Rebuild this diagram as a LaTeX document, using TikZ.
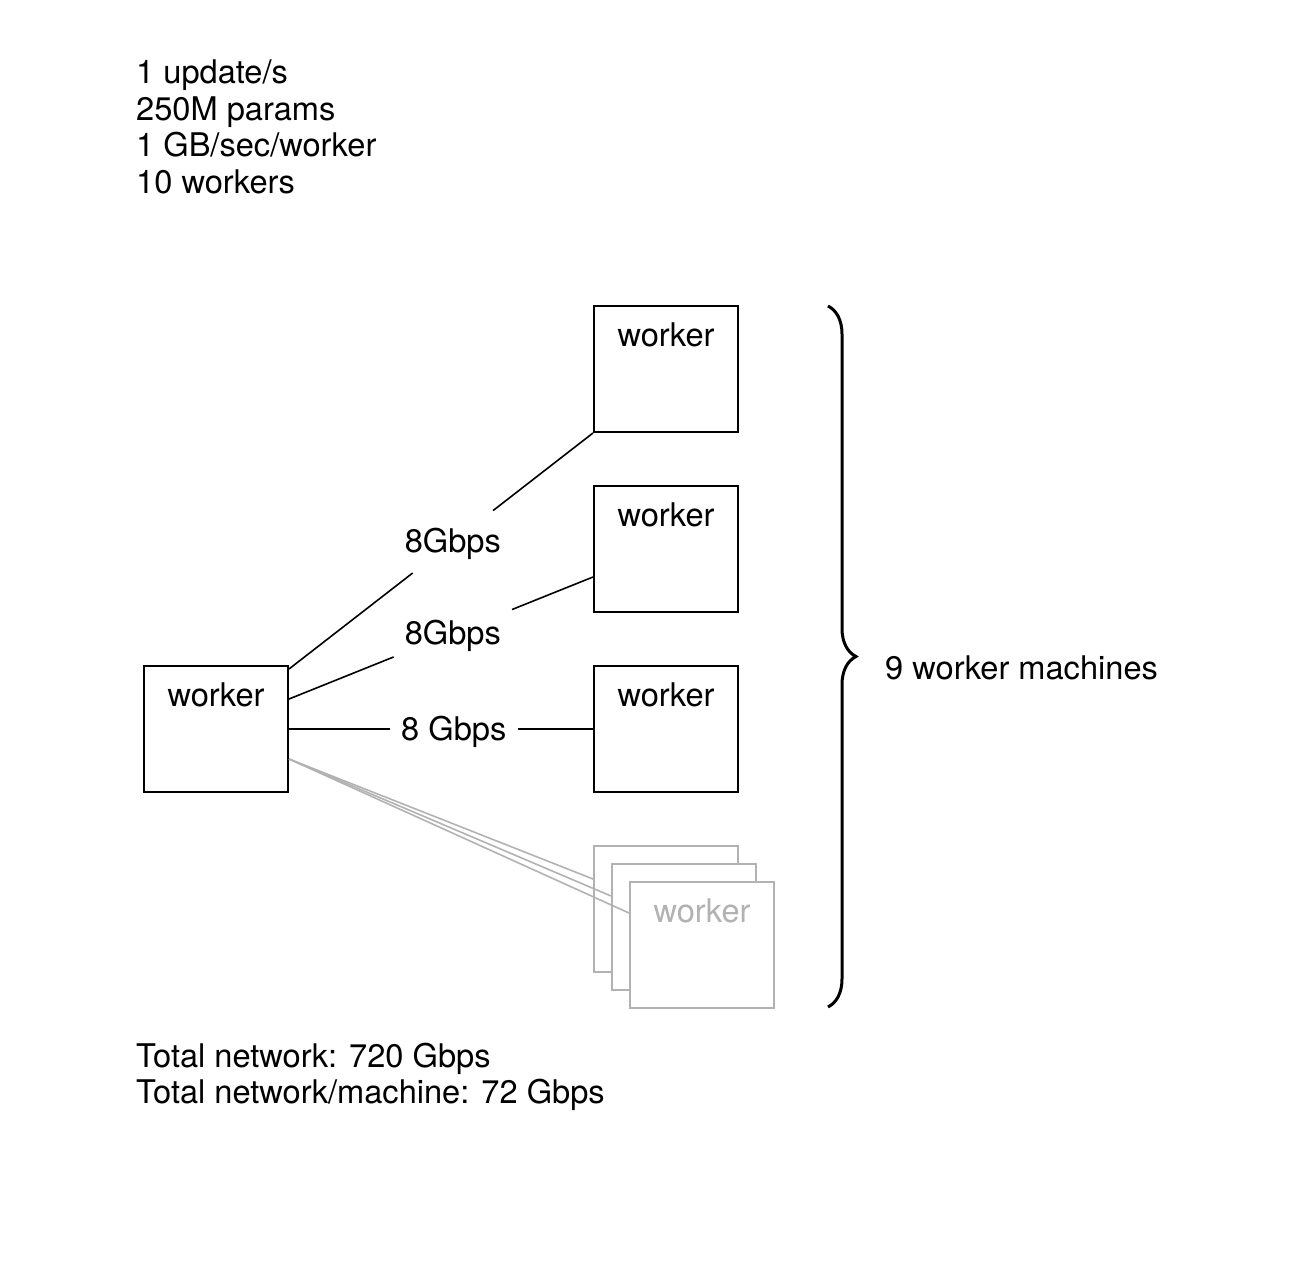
\documentclass[tikz,border=0pt]{standalone}
\usepackage{fontspec}
\setmainfont{TeX Gyre Heros}
\usetikzlibrary{decorations.pathreplacing,calc}
\definecolor{ghost}{RGB}{178,178,178}
\begin{document}
\begin{tikzpicture}[x=1pt,y=-1pt,
  every node/.style={font=\fontsize{32.6}{38}\selectfont},
  box/.style={draw,line width=2pt,minimum width=144pt,minimum height=126pt,inner sep=0pt,fill=white},
  gbox/.style={box,draw=ghost},
  txt/.style={anchor=base west,inner sep=0pt},
  wlab/.style={anchor=base,inner sep=0pt},
  rate/.style={inner xsep=11pt,inner ysep=15pt,text height=27pt,text depth=5pt},
  link/.style={line width=1.6pt},
  glink/.style={line width=1.6pt,draw=ghost}]
\useasboundingbox (0,0) rectangle (1310,1264);

% top notes
\node[txt] (t1) at (136,83.3) {1 update/s};
\node[txt] (t2) at (136,120) {250M params};
\node[txt] (t3) at (136,156.7) {1 GB/sec/worker};
\node[txt] (t4) at (136,193.3) {10 workers};

% boxes
\node[box] (L) at (216,729) {};
\node[wlab] (Lt) at (216,706) {worker};
\node[box] (W1) at (666,369) {};
\node[wlab] (W1t) at (666,346) {worker};
\node[box] (W2) at (666,549) {};
\node[wlab] (W2t) at (666,526) {worker};
\node[box] (W3) at (666,729) {};
\node[wlab] (W3t) at (666,706) {worker};

\node[gbox] (G1) at (666,909) {};
\node[gbox] (G2) at (684,927) {};
\node[gbox] (G3) at (702,945) {};
\node[wlab,text=ghost] (G3t) at (702,922) {worker};

% connection points
\coordinate (s1) at ([yshift=60pt]L.east);
\coordinate (s2) at ([yshift=30pt]L.east);
\coordinate (s3) at (L.east);
\coordinate (s4) at ([yshift=-30pt]L.east);
\coordinate (e1) at (W1.south west);
\coordinate (e2) at ([yshift=-28pt]W2.west);
\coordinate (e3) at (W3.west);

% rate labels
\node[rate] (r1) at ($(s1)!0.539!(e1)$) {8Gbps};
\node[rate] (r2) at ($(s2)!0.539!(e2)$) {8Gbps};
\node[rate] (r3) at ($(s3)!0.542!(e3)$) {8 Gbps};

\draw[link] (s1) -- (r1);
\draw[link] (r1) -- (e1);
\draw[link] (s2) -- (r2);
\draw[link] (r2) -- (e2);
\draw[link] (s3) -- (r3);
\draw[link] (r3) -- (e3);

% ghost links
\draw[glink] (s4) -- ([yshift=30pt]G1.west);
\draw[glink] (s4) -- ([yshift=31pt]G2.west);
\draw[glink] (s4) -- ([yshift=32pt]G3.west);

% brace
\coordinate (bt) at (828,306);
\coordinate (bb) at (828,1007);
\draw[decorate,decoration={brace,amplitude=28pt},line width=3pt] (bt) -- (bb);
\node[txt] (bl) at (885,679) {9 worker machines};

% bottom notes
\node[txt] (b1) at (136,1067) {Total network: 720 Gbps};
\node[txt] (b2) at (136,1103) {Total network/machine: 72 Gbps};
\end{tikzpicture}
\end{document}
